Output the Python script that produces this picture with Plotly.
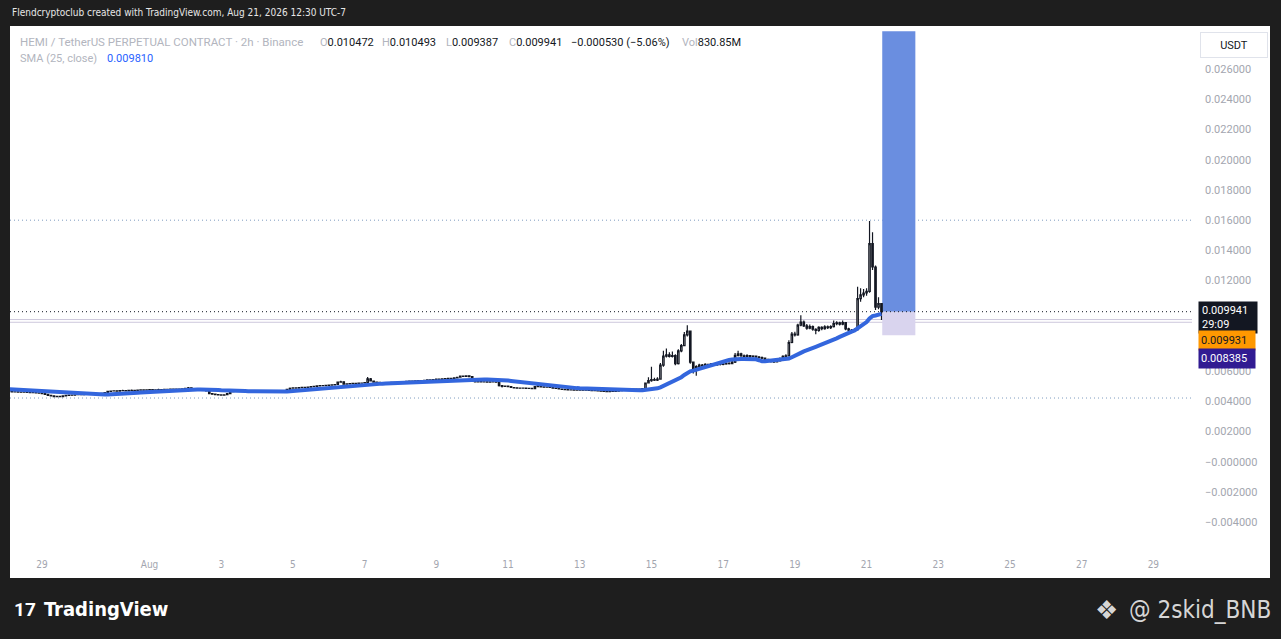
import pandas as pd
import plotly.graph_objects as go

# HEMI / TetherUS perpetual, Binance, 2h candles
candle_start = "2026-07-26 00:00"
first_open = 0.00494

closes = [
    0.00492, 0.00490, 0.00493, 0.00489, 0.00488, 0.00491, 0.00487, 0.00486, 0.00488, 0.00485, 0.00484, 0.00486,  # Jul 26
    0.00483, 0.00481, 0.00484, 0.00480, 0.00478, 0.00479, 0.00476, 0.00474, 0.00475, 0.00472, 0.00470, 0.00468,  # Jul 27
    0.00466, 0.00465, 0.00463, 0.00464, 0.00462, 0.00461, 0.00463, 0.00460, 0.00458, 0.00459, 0.00456, 0.00455,  # Jul 28
    0.00452, 0.00447, 0.00440, 0.00436, 0.00432, 0.00434, 0.00431, 0.00437, 0.00440, 0.00442, 0.00441, 0.00444,  # Jul 29
    0.00446, 0.00445, 0.00448, 0.00450, 0.00449, 0.00451, 0.00452, 0.00450, 0.00453, 0.00458, 0.00466, 0.00469,  # Jul 30
    0.00470, 0.00468, 0.00471, 0.00472, 0.00470, 0.00473, 0.00474, 0.00472, 0.00475, 0.00476, 0.00474, 0.00477,  # Jul 31
    0.00478, 0.00476, 0.00477, 0.00479, 0.00478, 0.00480, 0.00479, 0.00481, 0.00480, 0.00482, 0.00481, 0.00483,  # Aug 1
    0.00486, 0.00490, 0.00484, 0.00483, 0.00482, 0.00480, 0.00478, 0.00470, 0.00452, 0.00448, 0.00445, 0.00443,  # Aug 2
    0.00442, 0.00444, 0.00452, 0.00465, 0.00468, 0.00467, 0.00469, 0.00468, 0.00470, 0.00469, 0.00468, 0.00470,  # Aug 3
    0.00469, 0.00471, 0.00470, 0.00468, 0.00470, 0.00471, 0.00469, 0.00470, 0.00472, 0.00471, 0.00480, 0.00487,  # Aug 4
    0.00489, 0.00488, 0.00491, 0.00493, 0.00492, 0.00495, 0.00498, 0.00500, 0.00503, 0.00505, 0.00504, 0.00506,  # Aug 5
    0.00508, 0.00510, 0.00512, 0.00528, 0.00530, 0.00514, 0.00516, 0.00518, 0.00520, 0.00519, 0.00521, 0.00522,  # Aug 6
    0.00524, 0.00550, 0.00535, 0.00528, 0.00526, 0.00524, 0.00522, 0.00525, 0.00524, 0.00526, 0.00527, 0.00528,  # Aug 7
    0.00530, 0.00529, 0.00532, 0.00534, 0.00533, 0.00536, 0.00538, 0.00537, 0.00540, 0.00542, 0.00541, 0.00545,  # Aug 8
    0.00547, 0.00546, 0.00549, 0.00551, 0.00553, 0.00552, 0.00556, 0.00560, 0.00568, 0.00566, 0.00570, 0.00564,  # Aug 9
    0.00532, 0.00530, 0.00531, 0.00529, 0.00530, 0.00528, 0.00530, 0.00529, 0.00527, 0.00504, 0.00500, 0.00502,  # Aug 10
    0.00498, 0.00492, 0.00490, 0.00488, 0.00487, 0.00488, 0.00486, 0.00487, 0.00485, 0.00498, 0.00503, 0.00496,  # Aug 11
    0.00494, 0.00495, 0.00492, 0.00488, 0.00486, 0.00482, 0.00480, 0.00478, 0.00476, 0.00477, 0.00475, 0.00476,  # Aug 12
    0.00475, 0.00474, 0.00476, 0.00473, 0.00472, 0.00474, 0.00470, 0.00468, 0.00466, 0.00465, 0.00467, 0.00466,  # Aug 13
    0.00468, 0.00472, 0.00476, 0.00478, 0.00480, 0.00479, 0.00481, 0.00480, 0.00482, 0.00484, 0.00522, 0.00538,  # Aug 14
    0.00544, 0.00540, 0.00548, 0.00640, 0.00700, 0.00708, 0.00698, 0.00704, 0.00650, 0.00735, 0.00770, 0.00840,  # Aug 15
    0.00865, 0.00660, 0.00605, 0.00630, 0.00640, 0.00635, 0.00645, 0.00638, 0.00648, 0.00642, 0.00650, 0.00645,  # Aug 16
    0.00648, 0.00652, 0.00650, 0.00660, 0.00705, 0.00715, 0.00702, 0.00698, 0.00703, 0.00696, 0.00700, 0.00694,  # Aug 17
    0.00690, 0.00686, 0.00678, 0.00670, 0.00664, 0.00662, 0.00668, 0.00684, 0.00698, 0.00702, 0.00790, 0.00845,  # Aug 18
    0.00840, 0.00905, 0.00925, 0.00900, 0.00885, 0.00895, 0.00878, 0.00870, 0.00890, 0.00882, 0.00893, 0.00888,  # Aug 19
    0.00895, 0.00915, 0.00920, 0.00912, 0.00922, 0.00880, 0.00872, 0.00868, 0.00876, 0.01080, 0.01105, 0.01118,  # Aug 20
    0.01128, 0.01445, 0.01290, 0.01025, 0.010472, 0.009941,  # Aug 21
]

highs = [
    0.00496, 0.00494, 0.00495, 0.00494, 0.00491, 0.00493, 0.00492, 0.00489, 0.00490, 0.00489, 0.00487, 0.00488,
    0.00488, 0.00485, 0.00486, 0.00486, 0.00482, 0.00481, 0.00481, 0.00478, 0.00477, 0.00477, 0.00474, 0.00472,
    0.00470, 0.00468, 0.00467, 0.00466, 0.00466, 0.00464, 0.00465, 0.00465, 0.00462, 0.00461, 0.00461, 0.00458,
    0.00457, 0.00454, 0.00449, 0.00442, 0.00438, 0.00436, 0.00436, 0.00439, 0.00442, 0.00444, 0.00444, 0.00446,
    0.00448, 0.00448, 0.00450, 0.00452, 0.00452, 0.00453, 0.00454, 0.00454, 0.00455, 0.00460, 0.00470, 0.00472,
    0.00473, 0.00472, 0.00473, 0.00478, 0.00474, 0.00475, 0.00479, 0.00476, 0.00477, 0.00480, 0.00478, 0.00479,
    0.00481, 0.00480, 0.00479, 0.00484, 0.00481, 0.00482, 0.00482, 0.00486, 0.00483, 0.00484, 0.00484, 0.00485,
    0.00488, 0.00496, 0.00492, 0.00486, 0.00485, 0.00484, 0.00482, 0.00480, 0.00472, 0.00455, 0.00450, 0.00447,
    0.00446, 0.00446, 0.00454, 0.00467, 0.00471, 0.00470, 0.00472, 0.00471, 0.00473, 0.00472, 0.00470, 0.00473,
    0.00472, 0.00474, 0.00473, 0.00472, 0.00472, 0.00474, 0.00473, 0.00472, 0.00475, 0.00474, 0.00483, 0.00492,
    0.00492, 0.00491, 0.00494, 0.00496, 0.00495, 0.00498, 0.00501, 0.00503, 0.00506, 0.00508, 0.00507, 0.00509,
    0.00511, 0.00513, 0.00516, 0.00532, 0.00536, 0.00532, 0.00519, 0.00521, 0.00524, 0.00522, 0.00524, 0.00525,
    0.00527, 0.00562, 0.00555, 0.00538, 0.00531, 0.00529, 0.00527, 0.00528, 0.00527, 0.00529, 0.00530, 0.00531,
    0.00533, 0.00533, 0.00535, 0.00538, 0.00536, 0.00540, 0.00542, 0.00540, 0.00543, 0.00546, 0.00545, 0.00548,
    0.00550, 0.00550, 0.00552, 0.00554, 0.00556, 0.00556, 0.00559, 0.00563, 0.00572, 0.00571, 0.00574, 0.00573,
    0.00566, 0.00535, 0.00533, 0.00534, 0.00532, 0.00533, 0.00532, 0.00533, 0.00531, 0.00529, 0.00507, 0.00505,
    0.00505, 0.00500, 0.00494, 0.00492, 0.00490, 0.00491, 0.00490, 0.00489, 0.00489, 0.00500, 0.00508, 0.00506,
    0.00499, 0.00498, 0.00497, 0.00494, 0.00490, 0.00488, 0.00484, 0.00482, 0.00480, 0.00479, 0.00479, 0.00478,
    0.00478, 0.00477, 0.00478, 0.00478, 0.00475, 0.00476, 0.00476, 0.00472, 0.00470, 0.00468, 0.00469, 0.00469,
    0.00470, 0.00474, 0.00478, 0.00481, 0.00482, 0.00482, 0.00484, 0.00483, 0.00485, 0.00487, 0.00526, 0.00560,
    0.00630, 0.00556, 0.00560, 0.00655, 0.00735, 0.00750, 0.00725, 0.00730, 0.00712, 0.00745, 0.00780, 0.00860,
    0.00905, 0.00870, 0.00665, 0.00640, 0.00650, 0.00648, 0.00652, 0.00650, 0.00655, 0.00654, 0.00658, 0.00656,
    0.00655, 0.00658, 0.00660, 0.00668, 0.00720, 0.00735, 0.00722, 0.00710, 0.00712, 0.00708, 0.00706, 0.00704,
    0.00700, 0.00697, 0.00690, 0.00682, 0.00675, 0.00670, 0.00675, 0.00690, 0.00705, 0.00712, 0.00805, 0.00860,
    0.00862, 0.00915, 0.00970, 0.00935, 0.00912, 0.00910, 0.00902, 0.00885, 0.00898, 0.00898, 0.00905, 0.00902,
    0.00905, 0.00935, 0.00930, 0.00928, 0.00935, 0.00925, 0.00888, 0.00880, 0.00885, 0.01160, 0.01150, 0.01145,
    0.01150, 0.01595, 0.01520, 0.01300, 0.01090, 0.010493,
]

lows = [
    0.00490, 0.00488, 0.00489, 0.00487, 0.00486, 0.00486, 0.00485, 0.00484, 0.00485, 0.00483, 0.00482, 0.00483,
    0.00481, 0.00479, 0.00480, 0.00478, 0.00476, 0.00476, 0.00474, 0.00472, 0.00473, 0.00470, 0.00468, 0.00466,
    0.00464, 0.00463, 0.00461, 0.00461, 0.00460, 0.00459, 0.00459, 0.00458, 0.00456, 0.00456, 0.00454, 0.00453,
    0.00450, 0.00445, 0.00438, 0.00434, 0.00429, 0.00430, 0.00428, 0.00430, 0.00435, 0.00438, 0.00439, 0.00439,
    0.00442, 0.00443, 0.00443, 0.00446, 0.00447, 0.00447, 0.00449, 0.00448, 0.00448, 0.00451, 0.00456, 0.00464,
    0.00467, 0.00466, 0.00466, 0.00469, 0.00468, 0.00468, 0.00471, 0.00470, 0.00470, 0.00473, 0.00472, 0.00472,
    0.00475, 0.00474, 0.00474, 0.00475, 0.00476, 0.00476, 0.00477, 0.00477, 0.00478, 0.00478, 0.00479, 0.00479,
    0.00481, 0.00484, 0.00482, 0.00481, 0.00480, 0.00478, 0.00476, 0.00468, 0.00450, 0.00445, 0.00442, 0.00440,
    0.00439, 0.00440, 0.00442, 0.00450, 0.00463, 0.00465, 0.00465, 0.00466, 0.00466, 0.00467, 0.00466, 0.00466,
    0.00467, 0.00467, 0.00468, 0.00466, 0.00466, 0.00469, 0.00467, 0.00467, 0.00468, 0.00469, 0.00470, 0.00478,
    0.00485, 0.00486, 0.00486, 0.00489, 0.00490, 0.00490, 0.00493, 0.00496, 0.00498, 0.00501, 0.00502, 0.00502,
    0.00504, 0.00506, 0.00508, 0.00510, 0.00525, 0.00512, 0.00512, 0.00514, 0.00516, 0.00517, 0.00517, 0.00519,
    0.00520, 0.00522, 0.00532, 0.00525, 0.00523, 0.00521, 0.00519, 0.00520, 0.00521, 0.00522, 0.00523, 0.00525,
    0.00526, 0.00527, 0.00527, 0.00530, 0.00531, 0.00531, 0.00534, 0.00535, 0.00535, 0.00538, 0.00539, 0.00539,
    0.00543, 0.00544, 0.00544, 0.00547, 0.00549, 0.00550, 0.00550, 0.00554, 0.00558, 0.00564, 0.00564, 0.00561,
    0.00528, 0.00528, 0.00528, 0.00527, 0.00527, 0.00526, 0.00526, 0.00527, 0.00525, 0.00498, 0.00492, 0.00497,
    0.00495, 0.00490, 0.00488, 0.00486, 0.00485, 0.00485, 0.00484, 0.00484, 0.00483, 0.00483, 0.00496, 0.00494,
    0.00492, 0.00492, 0.00490, 0.00486, 0.00484, 0.00480, 0.00478, 0.00476, 0.00474, 0.00474, 0.00473, 0.00473,
    0.00473, 0.00472, 0.00472, 0.00471, 0.00470, 0.00470, 0.00468, 0.00466, 0.00464, 0.00463, 0.00463, 0.00464,
    0.00464, 0.00466, 0.00470, 0.00474, 0.00476, 0.00477, 0.00477, 0.00478, 0.00478, 0.00480, 0.00482, 0.00518,
    0.00530, 0.00535, 0.00535, 0.00545, 0.00630, 0.00690, 0.00690, 0.00690, 0.00640, 0.00645, 0.00725, 0.00765,
    0.00830, 0.00650, 0.00585, 0.00570, 0.00620, 0.00625, 0.00628, 0.00630, 0.00632, 0.00635, 0.00636, 0.00638,
    0.00640, 0.00642, 0.00644, 0.00646, 0.00655, 0.00698, 0.00695, 0.00690, 0.00692, 0.00688, 0.00690, 0.00686,
    0.00684, 0.00680, 0.00672, 0.00664, 0.00658, 0.00655, 0.00658, 0.00664, 0.00680, 0.00692, 0.00698, 0.00785,
    0.00830, 0.00835, 0.00898, 0.00892, 0.00875, 0.00878, 0.00868, 0.00845, 0.00862, 0.00872, 0.00875, 0.00880,
    0.00880, 0.00890, 0.00905, 0.00902, 0.00905, 0.00872, 0.00862, 0.00860, 0.00862, 0.00870, 0.01060, 0.01090,
    0.01100, 0.01120, 0.01270, 0.01005, 0.01010, 0.009387,
]

sma_len = 25

# 0.008 and 0.010 sit under the price labels in the screenshot
price_ticks = [-0.004, -0.002, 0.0, 0.002, 0.004, 0.006, 0.012,
               0.014, 0.016, 0.018, 0.020, 0.022, 0.024, 0.026]
price_tick_labels = ["\u22120.004000", "\u22120.002000", "\u22120.000000", "0.002000", "0.004000",
                     "0.006000", "0.012000", "0.014000", "0.016000",
                     "0.018000", "0.020000", "0.022000", "0.024000", "0.026000"]
date_ticks = ["2026-07-29", "2026-08-01", "2026-08-03", "2026-08-05", "2026-08-07", "2026-08-09",
              "2026-08-11", "2026-08-13", "2026-08-15", "2026-08-17", "2026-08-19", "2026-08-21",
              "2026-08-23", "2026-08-25", "2026-08-27", "2026-08-29"]
date_tick_labels = ["29", "Aug", "3", "5", "7", "9", "11", "13", "15", "17", "19", "21",
                    "23", "25", "27", "29"]

# drawings on the chart
dotted_levels = [0.016, 0.004224]
solid_levels = [0.00942, 0.00924]
position_start = "2026-08-21 10:30"
position_end = "2026-08-22 08:40"
position_entry = 0.009931
position_stop = 0.008385
position_target = 0.02851

assert len(closes) == len(highs) == len(lows)

times = pd.date_range(candle_start, periods=len(closes), freq="2h")
opens = [first_open] + closes[:-1]
sma = pd.Series(closes).rolling(sma_len).mean()

# pixel frame of the screenshot
W, H = 1281, 639
PL, PR, PT, PB = 10, 1192, 26, 550
NARROW = "DejaVu Sans Condensed, Roboto"
GREY = "#b2b5be"
INK = "#131722"


def px(x):
    return (x - PL) / (PR - PL)


def py(y):
    return (PB - y) / (PB - PT)


fig = go.Figure()

fig.add_trace(go.Scatter(x=times, y=sma, mode="lines",
                         line=dict(color="#3366dd", width=4), hoverinfo="skip"))
fig.add_trace(go.Candlestick(
    x=times, open=opens, high=highs, low=lows, close=closes,
    increasing=dict(line=dict(color=INK, width=1.2), fillcolor="#ffffff"),
    decreasing=dict(line=dict(color=INK, width=1.2), fillcolor=INK),
    whiskerwidth=0, hoverinfo="skip"))

# white chart panel behind everything
fig.add_shape(type="rect", xref="paper", yref="paper", x0=px(10), x1=px(1270),
              y0=py(578), y1=py(26), fillcolor="#ffffff", line_width=0, layer="below")

# long position tool
fig.add_shape(type="rect", xref="x", yref="y", x0=position_start, x1=position_end,
              y0=position_entry, y1=position_target, fillcolor="#6a8ee0", line_width=0, layer="below")
fig.add_shape(type="rect", xref="x", yref="y", x0=position_start, x1=position_end,
              y0=position_stop, y1=position_entry, fillcolor="#d9d4ee", line_width=0, layer="below")

for lvl in dotted_levels:
    fig.add_shape(type="line", xref="paper", yref="y", x0=0, x1=1, y0=lvl, y1=lvl,
                  line=dict(color="#7f9cc0", width=1, dash="1px,3px"), layer="below")
for lvl in solid_levels:
    fig.add_shape(type="line", xref="paper", yref="y", x0=0, x1=1, y0=lvl, y1=lvl,
                  line=dict(color="#cdc8dc", width=1), layer="below")
# last price line
fig.add_shape(type="line", xref="paper", yref="y", x0=0, x1=1, y0=closes[-1], y1=closes[-1],
              line=dict(color=INK, width=1, dash="1px,3px"))


def ann(text, x, y, size=11, color=INK, family="Roboto", xanchor="left", **kw):
    fig.add_annotation(text=text, x=px(x), y=py(y), xref="paper", yref="paper",
                       xanchor=xanchor, yanchor="middle", showarrow=False,
                       font=dict(family=family, size=size, color=color), **kw)


# header strip
ann("Flendcryptoclub created with TradingView.com, Aug 21, 2026 12:30 UTC-7", 10, 13,
    size=10, color="#e6e6e6", family=NARROW)

# legend lines
ann("HEMI / TetherUS PERPETUAL CONTRACT \u00b7 2h \u00b7 Binance", 18, 42, size=11.5, color=GREY)
for lab, val, x in [("O", "0.010472", 318), ("H", "0.010493", 380),
                    ("L", "0.009387", 444), ("C", "0.009941", 507)]:
    ann(f"<span style='color:{GREY}'>{lab}</span>{val}", x, 42)
ann("\u22120.000530 (\u22125.06%)", 569, 42)
ann(f"<span style='color:{GREY}'>Vol</span>830.85M", 680, 42)
ann("SMA (25, close)", 18, 58, color=GREY)
ann("0.009810", 105, 58, color="#2962ff")

# currency box
ann("USDT", 1234, 45, xanchor="center", bgcolor="#ffffff", bordercolor="#e0e3eb",
    borderwidth=1, borderpad=4, width=58, height=16)

# price axis labels
ann(f"{closes[-1]:.6f}<br>29:09", 1198, 317.5, color="#ffffff", bgcolor=INK,
    width=52, height=25, borderpad=3, align="left")
ann(f"{position_entry:.6f}", 1198, 340.5, color=INK, bgcolor="#ff9800",
    width=52, height=15, borderpad=2, align="left")
ann(f"{position_stop:.6f}", 1198, 358.5, color="#ffffff", bgcolor="#311b92",
    width=52, height=15, borderpad=2, align="left")

# footer
ann("<b>17</b>", 12, 609, size=19, color="#ffffff", family="Roboto")
ann("<b>TradingView</b>", 42, 609, size=20, color="#ffffff", family=NARROW)
ann("\u2756", 1106, 610, size=26, color="#d6d6d6", family="DejaVu Sans", xanchor="center")
ann("@ 2skid_BNB", 1273, 610, size=24, color="#d6d6d6", family=NARROW, xanchor="right")

fig.update_layout(
    width=W, height=H,
    margin=dict(l=PL, r=W - PR, t=PT, b=H - PB),
    paper_bgcolor="#1e1e1e", plot_bgcolor="#ffffff",
    showlegend=False,
    font=dict(family="Roboto", size=11, color=INK),
    xaxis=dict(range=["2026-07-28 02:35", "2026-08-30 01:52"],
               rangeslider=dict(visible=False),
               tickvals=date_ticks, ticktext=date_tick_labels,
               tickfont=dict(family=NARROW, size=10, color="#a3a6af"),
               showgrid=False, zeroline=False, showline=False, ticks="",
               ticklabelstandoff=7),
    yaxis=dict(side="right", range=[-0.00584, 0.02886],
               tickvals=price_ticks, ticktext=price_tick_labels,
               tickfont=dict(family="Roboto", size=11, color="#a3a6af"),
               showgrid=False, zeroline=False, showline=False, ticks="",
               ticklabelstandoff=12),
)

fig.write_html("out.html", config={"displayModeBar": False},
               post_script="document.body.style.margin='0';document.body.style.overflow='hidden';")
